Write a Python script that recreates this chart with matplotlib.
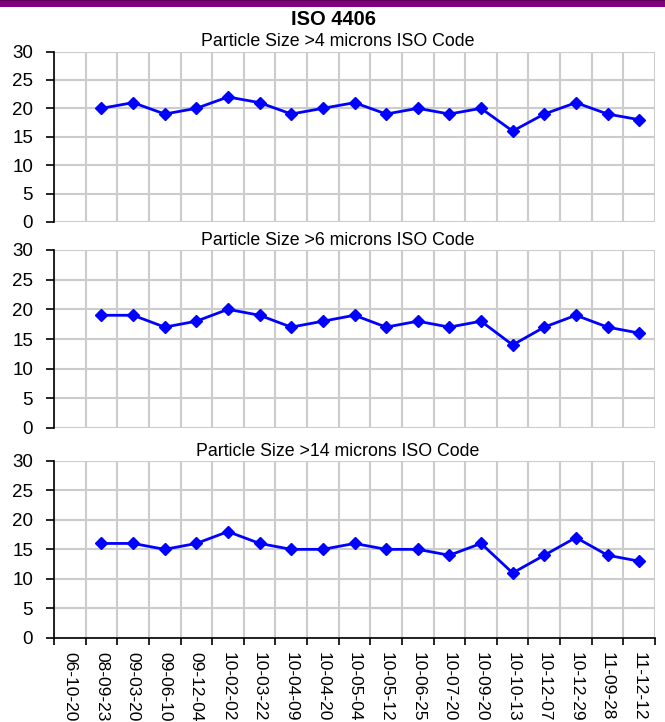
import numpy as np
import matplotlib
matplotlib.use("Agg")
import matplotlib.pyplot as plt
from matplotlib.patches import Rectangle

# Sample dates (category axis)
dates = ["06-10-20", "08-09-23", "09-03-20", "09-06-10", "09-12-04", "10-02-02",
         "10-03-22", "10-04-09", "10-04-20", "10-05-04", "10-05-12", "10-06-25",
         "10-07-20", "10-09-20", "10-10-13", "10-12-07", "10-12-29", "11-09-28",
         "11-12-12"]

# ISO codes per particle size (first date has no reading)
code_4 = [np.nan, 20, 21, 19, 20, 22, 21, 19, 20, 21, 19, 20, 19, 20, 16, 19, 21, 19, 18]
code_6 = [np.nan, 19, 19, 17, 18, 20, 19, 17, 18, 19, 17, 18, 17, 18, 14, 17, 19, 17, 16]
code_14 = [np.nan, 16, 16, 15, 16, 18, 16, 15, 15, 16, 15, 15, 14, 16, 11, 14, 17, 14, 13]

titles = ["Particle Size >4 microns ISO Code",
          "Particle Size >6 microns ISO Code",
          "Particle Size >14 microns ISO Code"]

W, H = 665, 722
text_font = ["Liberation Sans", "DejaVu Sans"]

fig = plt.figure(figsize=(W / 100, H / 100), dpi=100)

# Purple band at the top
fig.patches.append(Rectangle((0, 1 - 7 / H), 1, 7 / H, transform=fig.transFigure,
                             facecolor="#800080", edgecolor="none"))
fig.patches.append(Rectangle((0, 1 - 1.2 / H), 1, 1.2 / H, transform=fig.transFigure,
                             facecolor="#5a005a", edgecolor="none"))

fig.text(333 / W, 1 - 25 / H, "ISO 4406", ha="center", va="baseline",
         fontsize=14.5, fontweight="bold", family=text_font)

# Panel boxes in pixels: (top, bottom)
boxes = [(51.5, 222), (250, 428), (460.7, 638)]
title_base = [46.5, 245, 456]
left, right = 54, 655

x = np.arange(len(dates))
series = [code_4, code_6, code_14]

for i, (vals, (top, bot)) in enumerate(zip(series, boxes)):
    ax = fig.add_axes([left / W, 1 - bot / H, (right - left) / W, (bot - top) / H])
    ax.plot(x, vals, color="#0000ff", lw=2, marker="D", ms=6.5, zorder=3, clip_on=False)
    ax.set_xlim(-0.5, len(dates) - 0.5)
    ax.set_ylim(0, 30)
    ax.set_yticks(np.arange(0, 31, 5))
    ax.set_xticks(np.arange(-0.5, len(dates)))
    ax.grid(True, color="#cccccc", lw=1.5, zorder=0)
    ax.set_axisbelow(True)
    for s in ["top", "right"]:
        ax.spines[s].set_visible(False)
    ax.spines["left"].set_linewidth(1.2)
    ax.tick_params(axis="y", length=6, width=1.2, pad=9, labelsize=13.5)
    for lab in ax.get_yticklabels():
        lab.set_family(text_font)
    if i < 2:
        ax.spines["bottom"].set_visible(False)
        ax.tick_params(axis="x", length=0, labelbottom=False)
    else:
        ax.spines["bottom"].set_linewidth(1.2)
        ax.tick_params(axis="x", which="major", length=5, width=1.2, labelbottom=False)
        ax.set_xticks(x, minor=True)
        ax.set_xticklabels(dates, minor=True, rotation=-90, fontsize=12.5,
                           family=text_font, va="top", ha="center")
        ax.tick_params(axis="x", which="minor", length=0, pad=10)
    fig.text(338 / W, 1 - title_base[i] / H, titles[i], ha="center", va="baseline",
             fontsize=12.8, family=text_font)

fig.savefig("out.png", dpi=100)
